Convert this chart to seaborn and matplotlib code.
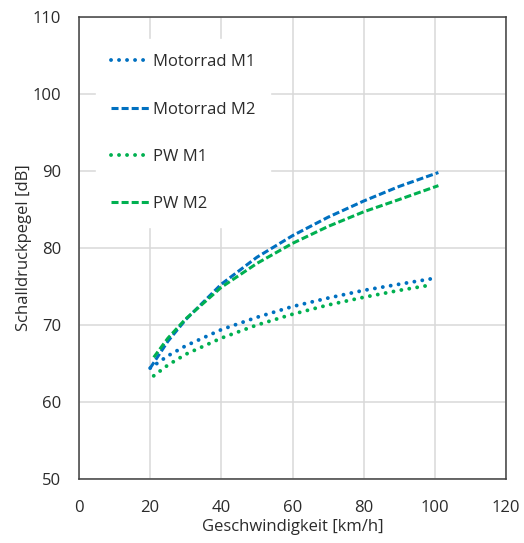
import matplotlib
matplotlib.use("Agg")
import matplotlib.pyplot as plt
import seaborn as sns
import pandas as pd

# Data
moto_m1_x = [20, 25, 30, 40, 50, 60, 70, 80, 90, 99]
moto_m1_y = [64.4, 66.0, 67.3, 69.4, 71.0, 72.4, 73.5, 74.5, 75.3, 76.0]

moto_m2_x = [20, 25, 30, 40, 50, 60, 70, 80, 90, 101]
moto_m2_y = [64.4, 67.9, 70.7, 75.3, 78.8, 81.6, 84.0, 86.1, 88.0, 89.8]

pw_m1_x = [21, 25, 30, 40, 50, 60, 70, 80, 90, 99]
pw_m1_y = [63.4, 64.8, 66.2, 68.3, 70.0, 71.4, 72.6, 73.6, 74.5, 75.2]

pw_m2_x = [21, 25, 30, 40, 50, 60, 70, 80, 90, 101]
pw_m2_y = [65.8, 68.3, 70.8, 74.9, 78.0, 80.6, 82.8, 84.7, 86.3, 88.1]

series_names = ["Motorrad M1", "Motorrad M2", "PW M1", "PW M2"]
x_label = "Geschwindigkeit [km/h]"
y_label = "Schalldruckpegel [dB]"

BLUE = "#0070C0"
GREEN = "#00B050"
TXT = "#2b2b2b"

frames = []
for name, xs, ys in zip(series_names,
                        [moto_m1_x, moto_m2_x, pw_m1_x, pw_m2_x],
                        [moto_m1_y, moto_m2_y, pw_m1_y, pw_m2_y]):
    frames.append(pd.DataFrame({"x": xs, "y": ys, "series": name}))
df = pd.concat(frames, ignore_index=True)

sns.set_theme(style="white")
plt.rcParams["font.family"] = ["Open Sans", "DejaVu Sans"]

fig = plt.figure(figsize=(5.24, 5.43), dpi=100)
ax = fig.add_axes([79 / 524, 1 - 479 / 543, (506 - 79) / 524, (479 - 17) / 543])

styles = {
    "Motorrad M1": (BLUE, (0, (0.01, 2.05)), "round", 2.8),
    "Motorrad M2": (BLUE, (0, (2.3, 1.0)), "butt", 2.2),
    "PW M1": (GREEN, (0, (0.01, 2.05)), "round", 2.8),
    "PW M2": (GREEN, (0, (2.3, 1.0)), "butt", 2.2),
}
for name in series_names:
    c, ls, cap, lw = styles[name]
    sub = df[df["series"] == name]
    sns.lineplot(data=sub, x="x", y="y", ax=ax, color=c, linestyle=ls,
                 linewidth=lw, label=name, dash_capstyle=cap)

ax.set_xlim(0, 120)
ax.set_ylim(50, 110)
ax.set_xticks(range(0, 121, 20))
ax.set_yticks(range(50, 111, 10))
ax.grid(True, color="#d9d9d9", linewidth=1.1)
ax.set_axisbelow(True)
for s in ax.spines.values():
    s.set_visible(True)
    s.set_color("#404040")
    s.set_linewidth(1.1)
ax.tick_params(axis="x", direction="out", length=5, width=1.1, color="#404040",
               labelsize=12, labelcolor=TXT, pad=10)
ax.tick_params(axis="y", length=0, labelsize=12, labelcolor=TXT, pad=13)
ax.set_xlabel(x_label, fontsize=12, color=TXT, labelpad=2)
ax.set_ylabel(y_label, fontsize=12, color=TXT, labelpad=0)

leg = ax.legend(loc="upper left", bbox_to_anchor=(0.04, 0.952), frameon=True,
                fontsize=12, labelspacing=1.88, handlelength=2.4,
                handletextpad=0.1, borderpad=0.9, borderaxespad=0)
leg.get_frame().set_facecolor("white")
leg.get_frame().set_edgecolor("white")
leg.get_frame().set_alpha(1.0)
leg.get_frame().set_boxstyle("square", pad=0)
for t in leg.get_texts():
    t.set_color(TXT)

fig.savefig("out.png", dpi=100)
